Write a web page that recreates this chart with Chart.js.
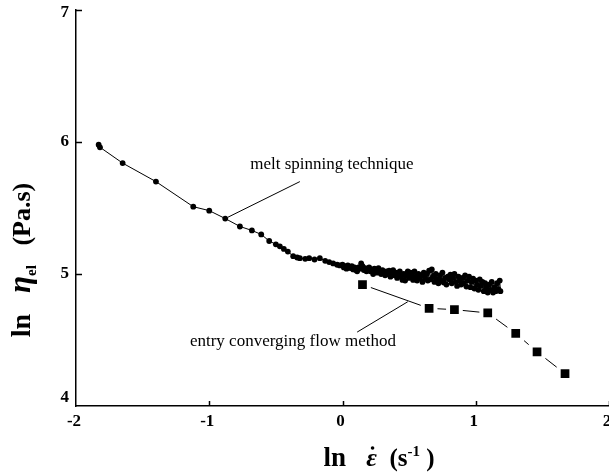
<!DOCTYPE html>
<html>
<head>
<meta charset="utf-8">
<script src="https://cdn.jsdelivr.net/npm/chart.js@4"></script>
<style>
  html, body { margin: 0; padding: 0; background: #fff; }
  #c { display: block; }
</style>
</head>
<body>
<canvas id="c" width="609" height="475"></canvas>
<script>
// --- DATA ---
const xTicks = [-2, -1, 0, 1, 2];
const yTicks = [4, 5, 6, 7];

// melt spinning technique: sparse part, then the dense noisy part (x step 0.01)
const meltX = [-1.83, -1.82, -1.65, -1.40, -1.12, -1.00, -0.88, -0.77, -0.68, -0.61, -0.55, -0.50, -0.47, -0.44,
  -0.41, -0.37, -0.34, -0.32, -0.28, -0.25, -0.21, -0.17, -0.13, -0.10, -0.07, -0.04, -0.02,
  0.00, 0.01, 0.02, 0.03, 0.04, 0.05, 0.06, 0.07, 0.08, 0.09,
  0.10, 0.11, 0.12, 0.13, 0.14, 0.15, 0.16, 0.17, 0.18, 0.19,
  0.20, 0.21, 0.22, 0.23, 0.24, 0.25, 0.26, 0.27, 0.28, 0.29,
  0.30, 0.31, 0.32, 0.33, 0.34, 0.35, 0.36, 0.37, 0.38, 0.39,
  0.40, 0.41, 0.42, 0.43, 0.44, 0.45, 0.46, 0.47, 0.48, 0.49,
  0.50, 0.51, 0.52, 0.53, 0.54, 0.55, 0.56, 0.57, 0.58, 0.59,
  0.60, 0.61, 0.62, 0.63, 0.64, 0.65, 0.66, 0.67, 0.68, 0.69,
  0.70, 0.71, 0.72, 0.73, 0.74, 0.75, 0.76, 0.77, 0.78, 0.79,
  0.80, 0.81, 0.82, 0.83, 0.84, 0.85, 0.86, 0.87, 0.88, 0.89,
  0.90, 0.91, 0.92, 0.93, 0.94, 0.95, 0.96, 0.97, 0.98, 0.99,
  1.00, 1.01, 1.02, 1.03, 1.04, 1.05, 1.06, 1.07, 1.08, 1.09,
  1.10, 1.11, 1.12, 1.13, 1.14, 1.15, 1.16, 1.17, 1.18, 1.185];
const meltY = [5.98, 5.96, 5.84, 5.70, 5.51, 5.48, 5.42, 5.36, 5.33, 5.30, 5.25, 5.225, 5.21, 5.19,
  5.17, 5.135, 5.125, 5.12, 5.115, 5.12, 5.11, 5.12, 5.10, 5.09, 5.08, 5.07, 5.065,
  5.07, 5.05, 5.06, 5.04, 5.065, 5.05, 5.045, 5.06, 5.035, 5.05,
  5.03, 5.02, 5.05, 5.04, 5.08, 5.06, 5.03, 5.045, 5.02, 5.04,
  5.05, 5.02, 5.035, 5.00, 5.04, 5.03, 5.01, 5.045, 5.02, 5.00,
  5.03, 5.01, 4.99, 5.02, 5.00, 5.025, 4.98, 5.01, 5.03, 4.99,
  5.01, 4.97, 5.00, 5.02, 4.98, 4.955, 5.00, 4.95, 4.99, 5.02,
  4.97, 5.01, 4.99, 4.955, 5.02, 4.98, 4.95, 5.00, 4.97, 4.99,
  4.94, 5.01, 4.97, 5.00, 4.95, 5.025, 4.96, 5.035, 4.98, 4.94,
  5.00, 4.96, 4.93, 4.99, 4.95, 5.01, 4.935, 4.97, 4.92, 4.98,
  4.96, 4.995, 4.93, 4.97, 5.00, 4.94, 4.91, 4.98, 4.95, 4.92,
  4.97, 4.93, 4.99, 4.905, 4.95, 4.98, 4.90, 4.94, 4.965, 4.89,
  4.95, 4.92, 4.88, 4.96, 4.91, 4.94, 4.87, 4.93, 4.90, 4.86,
  4.92, 4.88, 4.94, 4.86, 4.90, 4.87, 4.93, 4.885, 4.95, 4.87];

// entry converging flow method
const entryX = [0.15, 0.65, 0.84, 1.09, 1.30, 1.46, 1.67];
const entryY = [4.92, 4.74, 4.73, 4.705, 4.55, 4.41, 4.245];

// annotations (data coords)
const meltLabel = { text: 'melt spinning technique', x: -0.08, y: 5.83 };
const meltLeader = [[-0.32, 5.70], [-0.86, 5.43]];
const entryLabel = { text: 'entry converging flow method', x: -1.145, y: 4.485 };
const entryLeader = [[0.11, 4.56], [0.49, 4.79]];

const serif = '"Liberation Serif", "Times New Roman", serif';

const toPts = (xs, ys) => xs.map((x, i) => ({ x: x, y: ys[i] }));

// --- PLUGIN: ticks, labels, titles, annotations ---
const decor = {
  id: 'decor',
  afterDraw(chart) {
    const ctx = chart.ctx;
    const xs = chart.scales.x, ys = chart.scales.y;
    const area = chart.chartArea;
    ctx.save();
    ctx.strokeStyle = '#000';
    ctx.fillStyle = '#000';
    ctx.lineWidth = 1.5;

    // tick marks (inward)
    xTicks.forEach(v => {
      if (v === xTicks[0]) return;
      const px = Math.round(xs.getPixelForValue(v)) + 0.5;
      ctx.beginPath(); ctx.moveTo(px, area.bottom); ctx.lineTo(px, area.bottom - 5); ctx.stroke();
    });
    yTicks.forEach(v => {
      if (v === yTicks[0]) return;
      const py = Math.round(ys.getPixelForValue(v)) + 0.5;
      ctx.beginPath(); ctx.moveTo(area.left, py); ctx.lineTo(area.left + 6, py); ctx.stroke();
    });

    // tick labels
    ctx.font = 'bold 17px ' + serif;
    ctx.textAlign = 'center';
    ctx.textBaseline = 'middle';
    xTicks.forEach(v => {
      ctx.fillText(String(v), xs.getPixelForValue(v) - 2, area.bottom + 16);
    });
    ctx.textAlign = 'right';
    yTicks.forEach(v => {
      let py = ys.getPixelForValue(v);
      if (v === yTicks[0]) py -= 8;
      else if (v === yTicks[yTicks.length - 1]) py += 3;
      ctx.fillText(String(v), area.left - 7, py);
    });

    // x title: ln ε̇ (s-1)
    const partsX = [
      { t: 'ln', f: 'bold 27px ' + serif, dy: 0 },
      { t: '   ', f: 'bold 27px ' + serif, dy: 0 },
      { t: 'ε', f: 'italic bold 26px ' + serif, dy: 0, dot: true },
      { t: '  (s', f: 'bold 25px ' + serif, dy: 0 },
      { t: '-1', f: 'bold 15px ' + serif, dy: -10 },
      { t: ' )', f: 'bold 25px ' + serif, dy: 0 }
    ];
    drawParts(ctx, partsX, 379, 466);

    // y title: ln η_el (Pa.s)
    ctx.save();
    ctx.translate(30, 260);
    ctx.rotate(-Math.PI / 2);
    const partsY = [
      { t: 'ln   ', f: 'bold 28px ' + serif, dy: 0 },
      { t: 'η', f: 'italic bold 31px ' + serif, dy: 0 },
      { t: 'el', f: 'bold 15px ' + serif, dy: 6 },
      { t: '   (Pa.s)', f: 'bold 26px ' + serif, dy: 0 }
    ];
    drawParts(ctx, partsY, 0, 0);
    ctx.restore();

    // annotations
    ctx.lineWidth = 1;
    ctx.font = '17px ' + serif;
    ctx.textBaseline = 'middle';
    ctx.textAlign = 'center';
    ctx.fillText(meltLabel.text, xs.getPixelForValue(meltLabel.x), ys.getPixelForValue(meltLabel.y));
    ctx.textAlign = 'left';
    ctx.fillText(entryLabel.text, xs.getPixelForValue(entryLabel.x), ys.getPixelForValue(entryLabel.y));
    [meltLeader, entryLeader].forEach(l => {
      ctx.beginPath();
      ctx.moveTo(xs.getPixelForValue(l[0][0]), ys.getPixelForValue(l[0][1]));
      ctx.lineTo(xs.getPixelForValue(l[1][0]), ys.getPixelForValue(l[1][1]));
      ctx.stroke();
    });
    ctx.restore();
  }
};

function drawParts(ctx, parts, cx, baseY) {
  ctx.textAlign = 'left';
  ctx.textBaseline = 'alphabetic';
  let total = 0;
  parts.forEach(p => { ctx.font = p.f; p.w = ctx.measureText(p.t).width; total += p.w; });
  let x = cx - total / 2;
  parts.forEach(p => {
    ctx.font = p.f;
    ctx.fillText(p.t, x, baseY + p.dy);
    if (p.dot) {
      ctx.beginPath();
      ctx.arc(x + p.w / 2 + 1, baseY - 18, 1.8, 0, Math.PI * 2);
      ctx.fill();
    }
    x += p.w;
  });
}

// --- CHART ---
new Chart(document.getElementById('c'), {
  type: 'scatter',
  data: {
    datasets: [
      {
        label: 'melt spinning technique',
        data: toPts(meltX, meltY),
        showLine: true,
        borderColor: '#000',
        borderWidth: 1,
        backgroundColor: '#000',
        pointBackgroundColor: '#000',
        pointBorderWidth: 0,
        pointRadius: 2.9
      },
      {
        label: 'entry converging flow method',
        data: toPts(entryX, entryY),
        showLine: true,
        borderColor: '#000',
        borderWidth: 1,
        backgroundColor: '#000',
        pointStyle: 'rect',
        pointBackgroundColor: '#000',
        pointBorderColor: '#fff',
        pointBorderWidth: 4,
        pointRadius: 9
      }
    ]
  },
  options: {
    responsive: false,
    animation: false,
    layout: { autoPadding: false, padding: { top: 10, left: 0, right: 0, bottom: 0 } },
    plugins: { legend: { display: false }, tooltip: { enabled: false } },
    scales: {
      x: {
        type: 'linear', min: -2, max: 2,
        ticks: { display: false, stepSize: 1 },
        grid: { display: false, drawTicks: false },
        border: { display: true, color: '#000', width: 1.5 },
        afterFit: s => { s.height = 69; }
      },
      y: {
        type: 'linear', min: 4, max: 7,
        ticks: { display: false, stepSize: 1 },
        grid: { display: false, drawTicks: false },
        border: { display: true, color: '#000', width: 1.5 },
        afterFit: s => { s.width = 76; }
      }
    }
  },
  plugins: [decor]
});
</script>
</body>
</html>
